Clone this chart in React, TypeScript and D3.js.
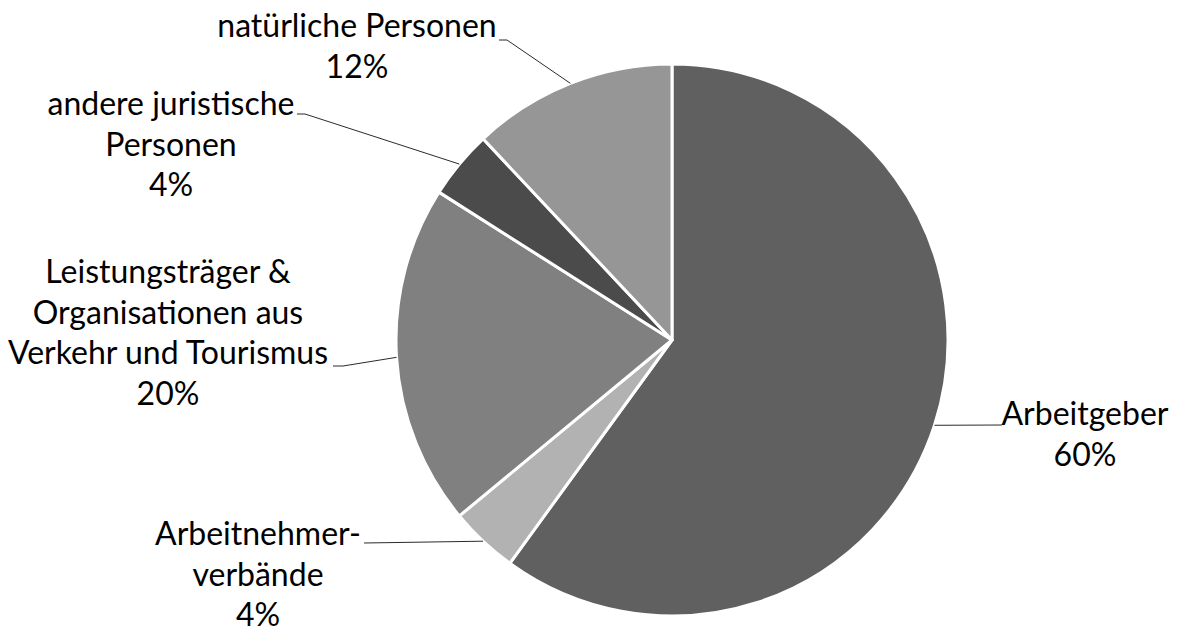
import React from "react";
import * as d3 from "d3";

const categories = [
  "Arbeitgeber",
  "Arbeitnehmerverbände",
  "Leistungsträger & Organisationen aus Verkehr und Tourismus",
  "andere juristische Personen",
  "natürliche Personen",
];
const values = [60, 4, 20, 4, 12];
const percentLabels = ["60%", "4%", "20%", "4%", "12%"];
const labelLines = [
  ["Arbeitgeber"],
  ["Arbeitnehmer-", "verbände"],
  ["Leistungsträger &", "Organisationen aus", "Verkehr und Tourismus"],
  ["andere juristische", "Personen"],
  ["natürliche Personen"],
];
const colors = ["#606060", "#b2b2b2", "#808080", "#4b4b4b", "#969696"];

// layout: label block position (center x, first baseline) and leader path points
const labelLayout = [
  { x: 1085, y: 425, leader: [[1002, 425]] },
  { x: 258, y: 545, leader: [[364, 543]] },
  { x: 168, y: 283, leader: [[343, 366], [333, 366]] },
  { x: 171, y: 115, leader: [[305, 114], [297, 114]] },
  { x: 357, y: 37, leader: [[507, 40], [499, 40]] },
];

const W = 1178;
const H = 632;
const cx = 672;
const cy = 340;
const R = 276;
const lineH = 40.5;
const font = "Lato, 'Open Sans', sans-serif";
const fontSize = 32;

export default function App() {
  const pie = d3
    .pie<number>()
    .sort(null)
    .value((d) => d);
  const arcs = pie(values);
  const arcGen = d3.arc<d3.PieArcDatum<number>>().innerRadius(0).outerRadius(R);
  const edgeArc = d3.arc<d3.PieArcDatum<number>>().innerRadius(R).outerRadius(R);

  return (
    <svg
      width={W}
      height={H}
      style={{ position: "absolute", left: 0, top: 0, background: "#fff" }}
    >
      <g transform={`translate(${cx},${cy})`}>
        {arcs.map((a, i) => (
          <path
            key={categories[i]}
            d={arcGen(a) || ""}
            fill={colors[i]}
            stroke="#fff"
            strokeWidth={3}
            strokeLinejoin="round"
          />
        ))}
      </g>
      {arcs.map((a, i) => {
        const [ex, ey] = edgeArc.centroid(a);
        const pts = [[ex + cx, ey + cy], ...labelLayout[i].leader];
        const line = d3.line()(pts as [number, number][]) || "";
        return (
          <path key={"l" + i} d={line} fill="none" stroke="#2a2a2a" strokeWidth={1} />
        );
      })}
      {labelLines.map((lines, i) => {
        const L = labelLayout[i];
        const all = [...lines, percentLabels[i]];
        return (
          <text
            key={"t" + i}
            x={L.x}
            y={L.y}
            textAnchor="middle"
            fontFamily={font}
            fontSize={fontSize}
            fill="#000"
          >
            {all.map((t, j) => (
              <tspan key={j} x={L.x} y={L.y + j * lineH}>
                {t}
              </tspan>
            ))}
          </text>
        );
      })}
    </svg>
  );
}
